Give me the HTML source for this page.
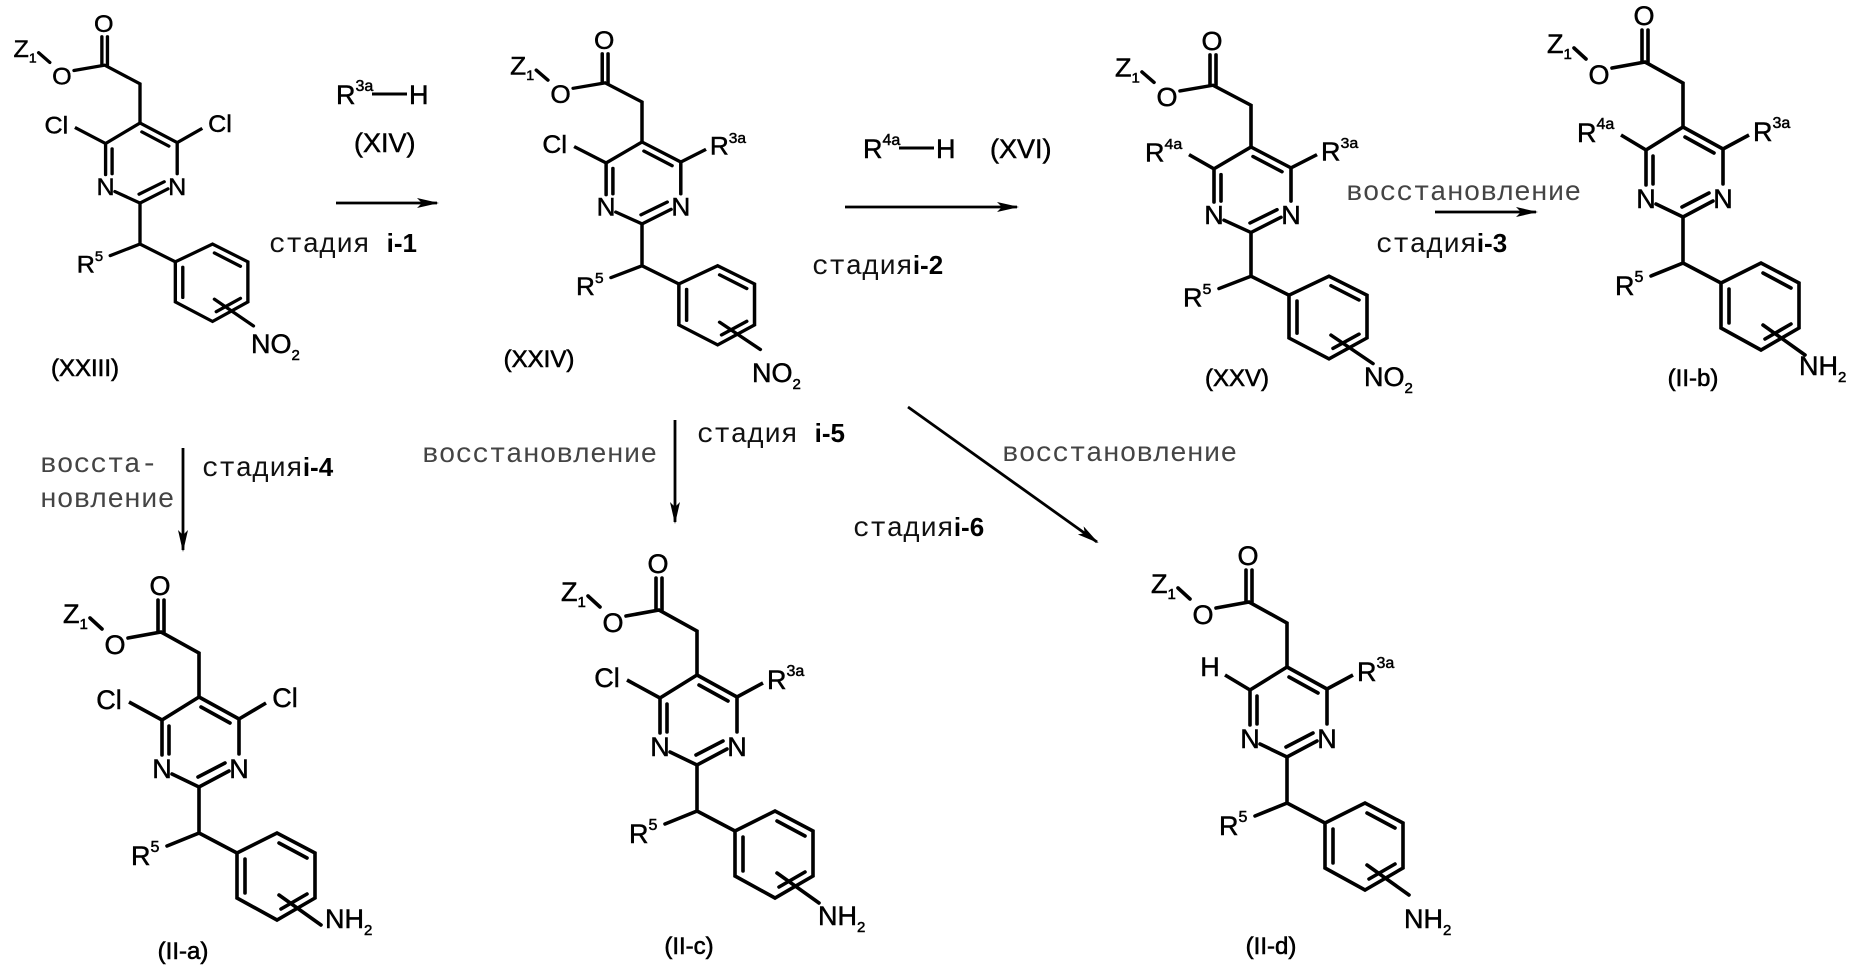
<!DOCTYPE html>
<html><head><meta charset="utf-8">
<style>
html,body{margin:0;padding:0;background:#fff;}
svg{display:block;}
.t{font-family:"Liberation Sans",Arial,sans-serif;font-size:27px;fill:#000;stroke:#000;stroke-width:0.5;}
.lab{font-family:"Liberation Sans",Arial,sans-serif;font-size:24px;fill:#000;stroke:#000;stroke-width:0.6;}
.ru{font-family:"Courier New","Liberation Mono","DejaVu Sans Mono",monospace;font-size:28px;fill:#111;}
.rug{font-family:"Courier New","Liberation Mono","DejaVu Sans Mono",monospace;font-size:28px;fill:#444;}
.b{font-family:"Liberation Sans",Arial,sans-serif;font-weight:bold;font-size:26px;fill:#000;}
</style></head>
<body>
<svg width="1854" height="978" viewBox="0 0 1854 978" xmlns="http://www.w3.org/2000/svg">
<defs>
<marker id="ah" viewBox="0 0 22 10" refX="20" refY="5" markerWidth="22" markerHeight="10" markerUnits="userSpaceOnUse" orient="auto">
<path d="M0,0 L22,5 L0,10 L5,5 z" fill="#000"/>
</marker>
<g id="sk">
 <g stroke="#000" stroke-width="3.6" fill="none" stroke-linecap="round">
  <path d="M-109,-79 L-97,-68"/>
  <path d="M-71,-59 L-38,-65 L0,-44 L0,0"/>
  <path d="M-41,-65 L-41,-97 M-35,-65 L-35,-97"/>
  <path d="M0,0 L-37,23 L-37,58"/>
  <path d="M-30,29 L-30,57"/>
  <path d="M0,0 L40,22 L40,57"/>
  <path d="M2,10 L31,26"/>
  <path d="M-27,77 L0,90 L30,74"/>
  <path d="M-1,80 L26,66"/>
  <path d="M0,90 L0,136 L-32,149 M0,136 L38,156"/>
  <path d="M38,156 L78,136 L116,156 L116,201 L78,223 L38,201 Z"/>
  <path d="M80,146 L108,161 M46,162 L46,196 M82,212 L108,197"/>
  <path d="M80,198 L122,228"/>
 </g>
 <text class="t" x="-39" y="-102" text-anchor="middle">O</text>
 <text class="t" x="-84" y="-43" text-anchor="middle">O</text>
 <text class="t" x="-136" y="-74">Z<tspan font-size="15" dy="6">1</tspan></text>
 <text class="t" x="-37" y="81" text-anchor="middle">N</text>
 <text class="t" x="40" y="81" text-anchor="middle">N</text>
 <text class="t" x="-68" y="168">R<tspan font-size="16" dy="-13">5</tspan></text>
</g>
<g id="clL">
 <path d="M-37,23 L-70,5" stroke="#000" stroke-width="3.6"/>
 <text class="t" x="-90" y="12" text-anchor="middle">Cl</text>
</g>
<g id="clR">
 <path d="M40,22 L67,6" stroke="#000" stroke-width="3.6"/>
 <text class="t" x="86" y="10" text-anchor="middle">Cl</text>
</g>
<g id="r3R">
 <path d="M40,22 L66,8" stroke="#000" stroke-width="3.6"/>
 <text class="t" x="70" y="14">R<tspan font-size="16" dy="-13">3a</tspan></text>
</g>
<g id="r4L">
 <path d="M-37,23 L-62,8" stroke="#000" stroke-width="3.6"/>
 <text class="t" x="-106" y="15">R<tspan font-size="16" dy="-13">4a</tspan></text>
</g>
<g id="hL">
 <path d="M-37,23 L-62,8" stroke="#000" stroke-width="3.6"/>
 <text class="t" x="-77" y="9" text-anchor="middle">H</text>
</g>
</defs>

<g transform="translate(140,123) scale(0.93,0.89)">
 <use href="#sk"/><use href="#clL"/><use href="#clR"/>
</g>
<text class="t" x="251" y="353">NO<tspan font-size="15" dy="7">2</tspan></text>
<text class="lab" x="85" y="376" text-anchor="middle">(XXIII)</text>

<g transform="translate(642,142) scale(0.97,0.91)">
 <use href="#sk"/><use href="#clL"/><use href="#r3R"/>
</g>
<text class="t" x="752" y="382">NO<tspan font-size="15" dy="7">2</tspan></text>
<text class="lab" x="539" y="367" text-anchor="middle">(XXIV)</text>

<g transform="translate(1251,147) scale(1.0,0.95)">
 <use href="#sk"/><use href="#r4L"/><use href="#r3R"/>
</g>
<text class="t" x="1364" y="386">NO<tspan font-size="15" dy="7">2</tspan></text>
<text class="lab" x="1237" y="386" text-anchor="middle">(XXV)</text>

<g transform="translate(1683,127)">
 <use href="#sk"/><use href="#r4L"/><use href="#r3R"/>
</g>
<text class="t" x="1799" y="375">NH<tspan font-size="15" dy="7">2</tspan></text>
<text class="lab" x="1693" y="386" text-anchor="middle">(II-b)</text>

<g transform="translate(199,697)">
 <use href="#sk"/><use href="#clL"/><use href="#clR"/>
</g>
<text class="t" x="325" y="928">NH<tspan font-size="15" dy="7">2</tspan></text>
<text class="lab" x="183" y="959" text-anchor="middle">(II-a)</text>

<g transform="translate(697,675)">
 <use href="#sk"/><use href="#clL"/><use href="#r3R"/>
</g>
<text class="t" x="818" y="925">NH<tspan font-size="15" dy="7">2</tspan></text>
<text class="lab" x="689" y="954" text-anchor="middle">(II-c)</text>

<g transform="translate(1287,667)">
 <use href="#sk"/><use href="#hL"/><use href="#r3R"/>
</g>
<text class="t" x="1404" y="928">NH<tspan font-size="15" dy="7">2</tspan></text>
<text class="lab" x="1271" y="954" text-anchor="middle">(II-d)</text>

<g stroke="#000" stroke-width="2.8" fill="none">
 <line x1="336" y1="203" x2="437" y2="203" marker-end="url(#ah)"/>
 <line x1="845" y1="207" x2="1017" y2="207" marker-end="url(#ah)"/>
 <line x1="1435" y1="212" x2="1536" y2="212" marker-end="url(#ah)"/>
 <line x1="183" y1="448" x2="183" y2="550" marker-end="url(#ah)"/>
 <line x1="675" y1="420" x2="675" y2="522" marker-end="url(#ah)"/>
 <line x1="908" y1="407" x2="1097" y2="542" marker-end="url(#ah)"/>
</g>

<text class="t" x="336" y="104">R<tspan font-size="16" dy="-13">3a</tspan></text>
<line x1="372" y1="94" x2="407" y2="94" stroke="#000" stroke-width="3"/>
<text class="t" x="409" y="104">H</text>
<text class="t" x="354" y="152">(XIV)</text>

<text class="t" x="863" y="158">R<tspan font-size="16" dy="-13">4a</tspan></text>
<line x1="899" y1="148" x2="934" y2="148" stroke="#000" stroke-width="3"/>
<text class="t" x="936" y="158">H</text>
<text class="t" x="990" y="158">(XVI)</text>

<text class="ru" x="269" y="252">стадия <tspan class="b">i-1</tspan></text>
<text class="ru" x="812" y="274">стадия<tspan class="b">i-2</tspan></text>
<text class="rug" x="1346" y="200">восстановление</text>
<text class="ru" x="1376" y="252">стадия<tspan class="b">i-3</tspan></text>

<text class="rug" x="40" y="472">восста-</text>
<text class="rug" x="40" y="507">новление</text>
<text class="ru" x="202" y="476">стадия<tspan class="b">i-4</tspan></text>

<text class="rug" x="422" y="462">восстановление</text>
<text class="ru" x="697" y="442">стадия <tspan class="b">i-5</tspan></text>

<text class="rug" x="1002" y="461">восстановление</text>
<text class="ru" x="853" y="536">стадия<tspan class="b">i-6</tspan></text>
</svg>
</body></html>
